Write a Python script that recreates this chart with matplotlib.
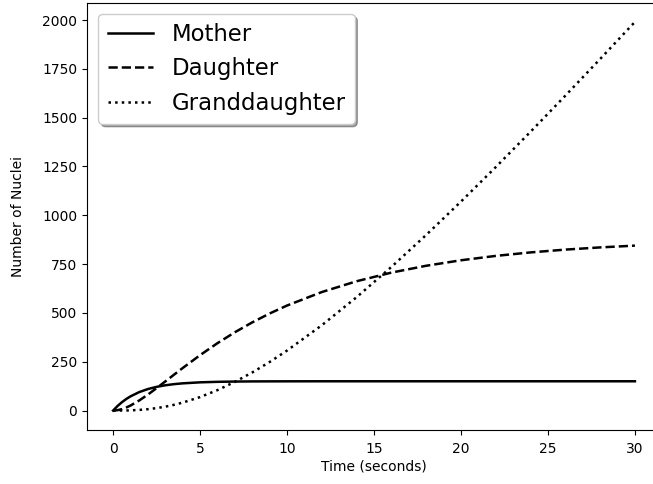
import matplotlib
matplotlib.use("Agg")
import matplotlib.pyplot as plt

# Time samples (seconds)
time = [0, 0.25, 0.5, 0.75, 1, 1.5, 2, 2.5, 3, 3.5, 4, 5, 6, 7, 8, 9, 10,
        12, 14, 16, 18, 20, 22, 24, 26, 28, 30]

mother = [0, 22.9, 42.3, 58.8, 72.7, 94.5, 110.2, 121.4, 129.5, 135.3, 139.4,
          144.6, 147.2, 148.6, 149.3, 149.6, 149.8,
          150, 150, 150, 150, 150, 150, 150, 150, 150, 150]

daughter = [0, 1.9, 7.3, 15.4, 25.7, 51.5, 81.8, 114.8, 149.0, 183.6, 217.8,
            283.8, 345.1, 401.0, 451.6, 497.1, 537.9,
            607.0, 662.3, 706.5, 741.6, 769.7, 792.1, 810.0, 824.3, 835.6, 844.7]

granddaughter = [0, 0.05, 0.2, 0.5, 1.1, 3.3, 7.0, 12.6, 20.0, 29.4, 40.8,
                 69.1, 104.7, 146.9, 195.1, 248.8, 307.3,
                 437.0, 580.7, 735.5, 899.4, 1070.3, 1246.9, 1428.0, 1612.7,
                 1800.4, 1990.3]

labels = ["Mother", "Daughter", "Granddaughter"]
styles = ["-", "--", ":"]

fig = plt.figure(figsize=(6.53, 4.84), dpi=100)
ax = fig.add_axes([87 / 653, 1 - 430 / 484, (661 - 87) / 653, (430 - 2.5) / 484])

for series, lab, ls in zip([mother, daughter, granddaughter], labels, styles):
    ax.plot(time, series, color="black", linestyle=ls, linewidth=1.8, label=lab)

ax.tick_params(axis="x", pad=5)
ax.set_xlabel("Time (seconds)", labelpad=3)
ax.set_ylabel("Number of Nuclei", labelpad=12)
ax.legend(loc="upper left", fontsize=16.4, shadow=True)

fig.savefig("out.png", dpi=100)
